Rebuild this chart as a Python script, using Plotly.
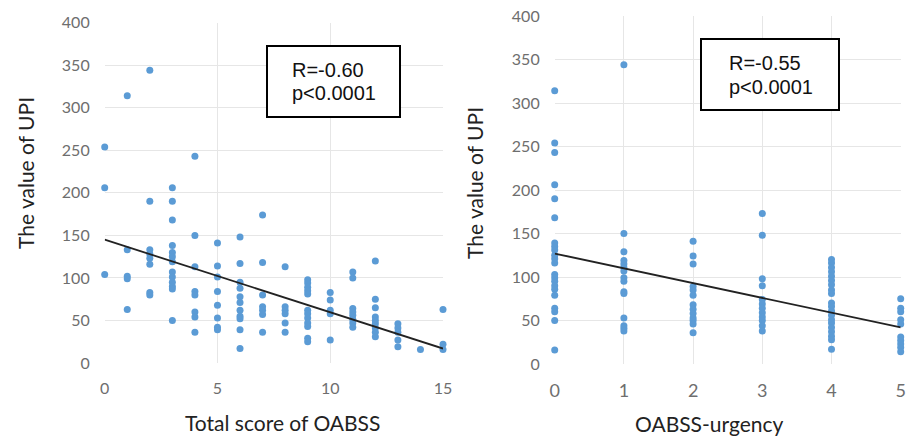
import plotly.graph_objects as go

# ---------------- data ----------------
# Left panel: Total score of OABSS vs UPI
total_score_groups = {
    0: [254, 206, 104],
    1: [314, 133, 102, 99, 63],
    2: [344, 190, 133, 128, 123, 116, 83, 80],
    3: [206, 190, 168, 138, 130, 125, 119, 107, 101, 95, 90, 87, 50],
    4: [243, 150, 113, 84, 80, 60, 54, 36],
    5: [141, 114, 101, 84, 68, 53, 42, 39],
    6: [148, 117, 95, 88, 78, 71, 62, 55, 52, 39, 17],
    7: [174, 118, 80, 66, 62, 57, 36],
    8: [113, 66, 62, 58, 47, 36],
    9: [98, 94, 89, 85, 81, 62, 58, 53, 47, 43, 29, 25],
    10: [83, 74, 62, 58, 27],
    11: [107, 100, 64, 60, 56, 51, 47, 42],
    12: [120, 75, 65, 54, 50, 46, 41, 36, 31],
    13: [46, 41, 36, 27, 19],
    14: [16],
    15: [63, 22, 16],
}
trend_left_x = [0, 15]
trend_left_y = [145, 17]

# Right panel: OABSS-urgency vs UPI
urgency_groups = {
    0: [314, 254, 243, 206, 190, 168, 139, 135, 131, 125, 121, 116, 103, 99, 95, 90, 86, 79, 64, 60, 50, 16],
    1: [344, 150, 129, 119, 115, 111, 107, 99, 95, 83, 81, 53, 44, 41, 38],
    2: [141, 124, 115, 89, 85, 79, 68, 63, 58, 53, 50, 46, 36],
    3: [173, 148, 98, 90, 74, 69, 64, 59, 54, 50, 44, 38],
    4: [120, 116, 111, 106, 101, 96, 91, 85, 81, 70, 66, 61, 56, 51, 47, 42, 37, 32, 28, 17],
    5: [75, 64, 60, 51, 46, 31, 27, 23, 19, 14],
}
trend_right_x = [0, 5]
trend_right_y = [127, 42]

stats_left = ["R=-0.60", "p<0.0001"]
stats_right = ["R=-0.55", "p<0.0001"]

y_title = "The value of UPI"
x_title_left = "Total score of OABSS"
x_title_right = "OABSS-urgency"

# ---------------- figure ----------------
W, H = 914, 436
def px(x):
    return x / W
def py(y):
    return 1 - y / H

MARKER = "#5B9BD5"
GRID = "#e6e6e6"
TICK = "#6e6e6e"

def flatten(groups):
    xs, ys = [], []
    for k, vals in groups.items():
        for v in vals:
            xs.append(k)
            ys.append(v)
    return xs, ys

lx, ly = flatten(total_score_groups)
rx, ry = flatten(urgency_groups)

fig = go.Figure()
fig.add_trace(go.Scatter(x=lx, y=ly, mode="markers", xaxis="x", yaxis="y",
                         marker=dict(color=MARKER, size=7), cliponaxis=False))
fig.add_trace(go.Scatter(x=trend_left_x, y=trend_left_y, mode="lines", xaxis="x", yaxis="y",
                         line=dict(color="#222222", width=1.8), cliponaxis=False))
fig.add_trace(go.Scatter(x=rx, y=ry, mode="markers", xaxis="x2", yaxis="y2",
                         marker=dict(color=MARKER, size=7), cliponaxis=False))
fig.add_trace(go.Scatter(x=trend_right_x, y=trend_right_y, mode="lines", xaxis="x2", yaxis="y2",
                         line=dict(color="#222222", width=1.8), cliponaxis=False))

axis_common = dict(showgrid=True, gridcolor=GRID, gridwidth=1.3, zeroline=False,
                   showline=False, ticks="", automargin=False)

fig.update_layout(
    width=W, height=H,
    margin=dict(l=0, r=0, t=0, b=0),
    paper_bgcolor="white", plot_bgcolor="white",
    showlegend=False,
    font=dict(family="Lato, Liberation Sans, sans-serif"),
    xaxis=dict(domain=[px(104.7), px(443)], range=[0, 15], dtick=5, tick0=0,
               tickfont=dict(size=16, color=TICK), ticklabelstandoff=14, anchor="y",
               **axis_common),
    yaxis=dict(domain=[py(363), py(22.7)], range=[0, 400], dtick=50, tick0=0,
               tickfont=dict(size=16, color=TICK), ticklabelstandoff=14, anchor="x",
               **axis_common),
    xaxis2=dict(domain=[px(554.7), px(900.7)], range=[0, 5], dtick=1, tick0=0,
                tickfont=dict(size=18, color=TICK), ticklabelstandoff=14, anchor="y2",
                **axis_common),
    yaxis2=dict(domain=[py(364), py(16)], range=[0, 400], dtick=50, tick0=0,
                tickfont=dict(size=16, color=TICK), ticklabelstandoff=14, anchor="x2",
                **axis_common),
)

fig.add_shape(type="rect", xref="paper", yref="paper",
              x0=px(267), x1=px(400), y0=py(117), y1=py(46),
              line=dict(color="black", width=2), fillcolor="white", layer="above")
fig.add_shape(type="rect", xref="paper", yref="paper",
              x0=px(701), x1=px(839), y0=py(110), y1=py(39),
              line=dict(color="black", width=2), fillcolor="white", layer="above")

ann_font = dict(family="Liberation Sans, Arial, sans-serif", size=20, color="#111111")
annotations = [
    dict(text=stats_left[0], x=px(290), y=py(70), xanchor="left", yanchor="middle"),
    dict(text=stats_left[1], x=px(290), y=py(93), xanchor="left", yanchor="middle"),
    dict(text=stats_right[0], x=px(727), y=py(63), xanchor="left", yanchor="middle"),
    dict(text=stats_right[1], x=px(727), y=py(87), xanchor="left", yanchor="middle"),
]
for a in annotations:
    fig.add_annotation(xref="paper", yref="paper", showarrow=False, font=ann_font, **a)

title_font = dict(family="Lato, Liberation Sans, sans-serif", size=21, color="#222222")
fig.add_annotation(text=y_title, xref="paper", yref="paper", x=px(25), y=py(173),
                   textangle=-90, showarrow=False, font=title_font,
                   xanchor="center", yanchor="middle")
fig.add_annotation(text=y_title, xref="paper", yref="paper", x=px(474), y=py(183),
                   textangle=-90, showarrow=False, font=title_font,
                   xanchor="center", yanchor="middle")
fig.add_annotation(text=x_title_left, xref="paper", yref="paper", x=px(282), y=py(422),
                   showarrow=False, font=title_font, xanchor="center", yanchor="middle")
fig.add_annotation(text=x_title_right, xref="paper", yref="paper", x=px(709), y=py(423),
                   showarrow=False, font=title_font, xanchor="center", yanchor="middle")

fig.write_html(
    "out.html",
    config={"displayModeBar": False},
    post_script="document.body.style.margin='0';document.body.style.overflow='hidden';",
)
